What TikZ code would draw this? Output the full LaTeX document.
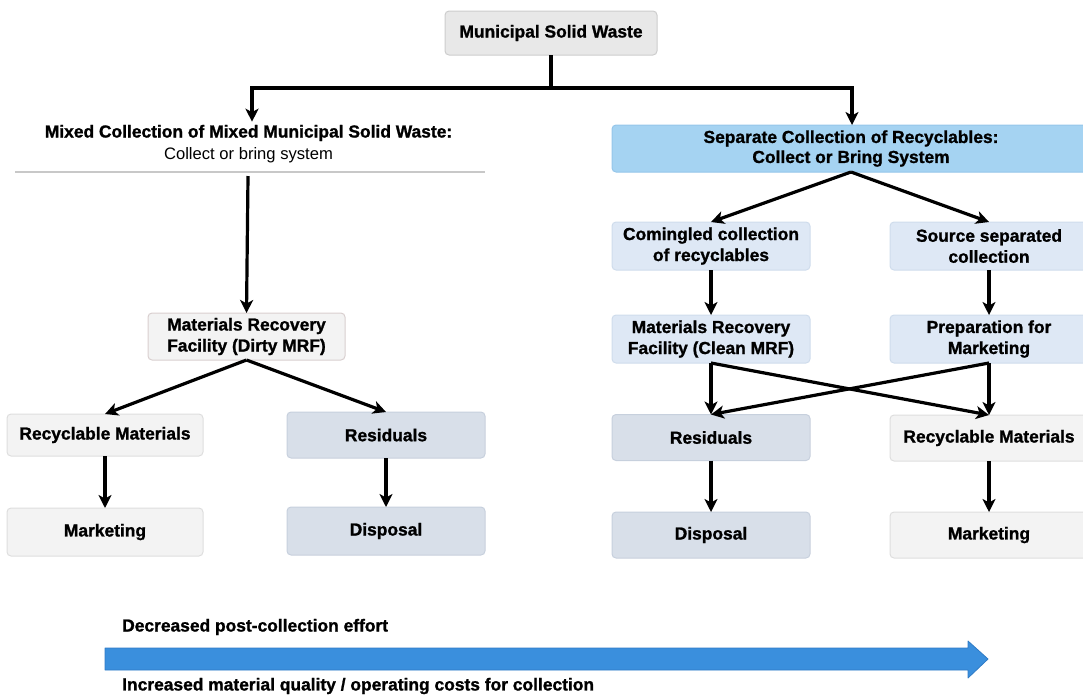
\documentclass[tikz,border=0pt]{standalone}
\usepackage{fontspec}
\setmainfont{Liberation Sans}[BoldFeatures={FakeBold=1.2}]
\usetikzlibrary{arrows.meta}

\definecolor{mswfill}{HTML}{E8E8E8}
\definecolor{mswline}{HTML}{CDCDCD}
\definecolor{sepfill}{HTML}{A5D3F2}
\definecolor{sepline}{HTML}{95C6EA}
\definecolor{palefill}{HTML}{DEE8F5}
\definecolor{paleline}{HTML}{CFDCEC}
\definecolor{resfill}{HTML}{D8DFE9}
\definecolor{resline}{HTML}{C7D0DD}
\definecolor{whitefill}{HTML}{F3F3F3}
\definecolor{whiteline}{HTML}{DEDEDE}
\definecolor{dirtyline}{HTML}{D9CFCF}
\definecolor{bandblue}{HTML}{3A8FDD}
\definecolor{bandedge}{HTML}{2F7BC6}
\definecolor{rulegray}{HTML}{C8C8C8}

\tikzset{
  lbl/.style={font=\fontsize{17.4}{21}\selectfont\bfseries, align=center},
  boxbase/.style={lbl, rounded corners=4pt, inner sep=0pt, outer sep=0pt,
    line width=1pt, minimum width=198pt},
  mswbox/.style={boxbase, fill=mswfill, draw=mswline},
  sepbox/.style={boxbase, fill=sepfill, draw=sepline},
  palebox/.style={boxbase, fill=palefill, draw=paleline},
  resbox/.style={boxbase, fill=resfill, draw=resline},
  whitebox/.style={boxbase, fill=whitefill, draw=whiteline},
  dirtybox/.style={boxbase, fill=whitefill, draw=dirtyline},
  arr/.style={line width=3.2pt, -{Stealth[length=13pt,width=13pt,inset=3.5pt]}},
  plain/.style={line width=3.2pt},
}

\begin{document}
\begin{tikzpicture}[x=1pt,y=-1pt]
\useasboundingbox (0,0) rectangle (1083,697);

% top node
\node[mswbox, minimum width=212pt, minimum height=44pt] (msw) at (551,33) {Municipal Solid Waste};

% left branch: mixed collection
\node[lbl, inner sep=3pt] (mixhead) at (248.5,133) {Mixed Collection of Mixed Municipal Solid Waste:};
\node[font=\fontsize{16.6}{20}\selectfont, inner sep=2pt] (mixsub) at (248.5,155) {Collect or bring system};
\draw[rulegray, line width=1.5pt] (15,172) -- (485,172);
\coordinate (rulemid) at (248,176);

\node[dirtybox, minimum width=197pt, minimum height=47pt] (dirty) at (246.5,336.5) {Materials Recovery\\Facility (Dirty MRF)};
\node[whitebox, minimum width=196pt, minimum height=42pt] (recL) at (105,435) {Recyclable Materials};
\node[resbox, minimum height=46pt] (resL) at (386,435) {Residuals};
\node[whitebox, minimum width=196pt, minimum height=48pt] (mktL) at (105,532) {Marketing};
\node[resbox, minimum height=48pt] (dispL) at (386,531) {Disposal};

% right branch: separate collection
\node[sepbox, minimum width=478pt, minimum height=47pt] (sep) at (851,148.5) {Separate Collection of Recyclables:\\[-1pt]Collect or Bring System};
\node[palebox, minimum height=48pt] (comin) at (711,246) {Comingled collection\\of recyclables};
\node[palebox, minimum height=48pt] (source) at (989,246) {Source separated\\collection};
\node[palebox, minimum height=48pt] (clean) at (711,339) {Materials Recovery\\Facility (Clean MRF)};
\node[palebox, minimum height=48pt] (prep) at (989,339) {Preparation for\\Marketing};
\node[resbox, minimum height=46pt] (resR) at (711,437.5) {Residuals};
\node[whitebox, minimum height=46pt] (recR) at (989,438) {Recyclable Materials};
\node[resbox, minimum height=46pt] (dispR) at (711,535) {Disposal};
\node[whitebox, minimum height=46pt] (mktR) at (989,535) {Marketing};

% top split
\coordinate (jl) at (252,88);
\coordinate (jr) at (852,88);
\draw[plain] (msw.south) -- (msw.south |- jl);
\draw[plain, line cap=rect] (jl) -- (jr);
\draw[arr] (jl) -- (jl |- mixhead.north);
\draw[arr] (jr) -- (jr |- sep.north);

% left flow
\draw[arr] (rulemid) -- (dirty.north);
\draw[arr] (dirty.south) -- (recL.north);
\draw[arr] (dirty.south) -- (resL.north);
\draw[arr] (recL.south) -- (mktL.north);
\draw[arr] (resL.south) -- (dispL.north);

% right flow
\draw[arr] (sep.south) -- (comin.north);
\draw[arr] (sep.south) -- (source.north);
\draw[arr] (comin.south) -- (clean.north);
\draw[arr] (source.south) -- (prep.north);
\draw[arr] (clean.south) -- (resR.north);
\draw[arr] (clean.south) -- (recR.north);
\draw[arr] (prep.south) -- (recR.north);
\draw[arr] (prep.south) -- (resR.north);
\draw[arr] (resR.south) -- (dispR.north);
\draw[arr] (recR.south) -- (mktR.north);

% bottom trend band
\node[lbl, anchor=west, inner sep=0pt] (trendtop) at (122,627) {Decreased post-collection effort};
\fill[bandblue, draw=bandedge, line width=0.8pt, line join=round]
  (105,648) -- (968,648) -- (968,641) -- (988,659) -- (968,678) -- (968,670) -- (105,670) -- cycle;
\node[lbl, anchor=west, inner sep=0pt] (trendbot) at (122,686) {Increased material quality / operating costs for collection};
\end{tikzpicture}
\end{document}
